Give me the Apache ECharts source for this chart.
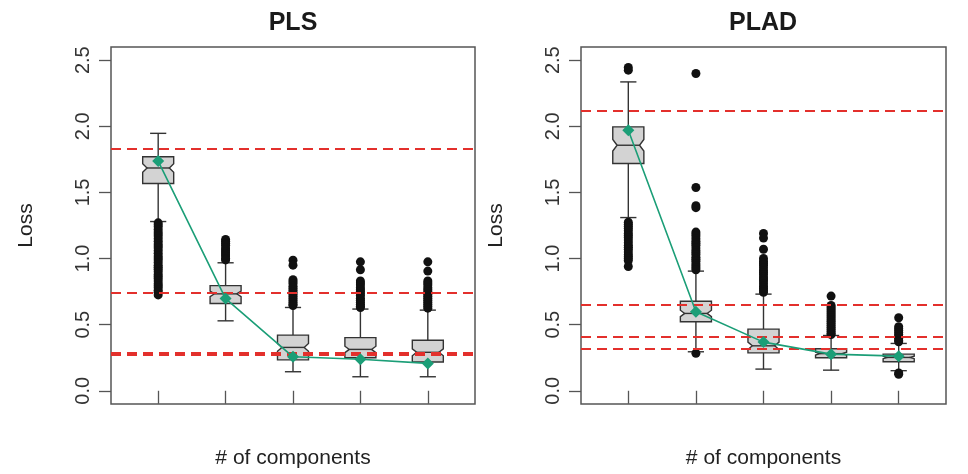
<!DOCTYPE html>
<html>
<head>
<meta charset="utf-8">
<script src="https://cdn.jsdelivr.net/npm/echarts@6/dist/echarts.min.js"></script>
<style>
  html, body { margin: 0; padding: 0; background: #fff; }
  #chart { width: 968px; height: 474px; }
</style>
</head>
<body>
<div id="chart"></div>
<script>
// x positions of the boxes and the y tick labels
const components = [1, 2, 3, 4, 5];
const yTicks = [0, 0.5, 1, 1.5, 2, 2.5];

// PLS panel: box statistics per number of components
const plsLow = [1.280, 0.529, 0.144, 0.106, 0.106];
const plsQ1 = [1.568, 0.660, 0.234, 0.250, 0.218];
const plsMedian = [1.685, 0.733, 0.328, 0.313, 0.291];
const plsQ3 = [1.770, 0.795, 0.421, 0.402, 0.382];
const plsHigh = [1.947, 0.968, 0.630, 0.618, 0.610];
const plsMean = [1.737, 0.697, 0.257, 0.238, 0.207];
const plsRefLines = [1.827, 0.736, 0.288, 0.274];
const plsOutliers = [
  [1.27, 1.255, 1.24, 1.22, 1.2, 1.185, 1.17, 1.15, 1.13, 1.11, 1.095, 1.08, 1.06, 1.04, 1.02, 1.005,
   0.99, 0.97, 0.95, 0.935, 0.92, 0.9, 0.88, 0.865, 0.85, 0.83, 0.81, 0.795, 0.78, 0.76, 0.745, 0.725],
  [1.145, 1.13, 1.115, 1.1, 1.08, 1.065, 1.05, 1.035, 1.02, 1.0, 0.99],
  [0.988, 0.95, 0.84, 0.825, 0.81, 0.79, 0.775, 0.76, 0.745, 0.73, 0.715, 0.7, 0.685, 0.67, 0.655, 0.645],
  [0.975, 0.915, 0.83, 0.815, 0.8, 0.78, 0.765, 0.75, 0.735, 0.72, 0.7, 0.685, 0.67, 0.655, 0.64, 0.63],
  [0.975, 0.905, 0.83, 0.815, 0.8, 0.78, 0.765, 0.75, 0.73, 0.715, 0.7, 0.685, 0.67, 0.655, 0.64, 0.625]
];

// PLAD panel
const pladLow = [1.310, 0.295, 0.164, 0.156, 0.152];
const pladQ1 = [1.719, 0.522, 0.287, 0.250, 0.219];
const pladMedian = [1.857, 0.585, 0.340, 0.281, 0.252];
const pladQ3 = [1.996, 0.677, 0.466, 0.318, 0.277];
const pladHigh = [2.336, 0.905, 0.731, 0.418, 0.358];
const pladMean = [1.971, 0.597, 0.368, 0.277, 0.262];
const pladRefLines = [2.116, 0.648, 0.408, 0.318];
const pladOutliers = [
  [2.445, 2.425, 1.275, 1.26, 1.245, 1.23, 1.21, 1.19, 1.175, 1.16, 1.14, 1.12, 1.1, 1.085, 1.07, 1.05,
   1.03, 1.015, 1.0, 0.985, 0.94],
  [2.4, 1.537, 1.4, 1.385, 1.2, 1.185, 1.17, 1.15, 1.13, 1.115, 1.1, 1.08, 1.06, 1.045, 1.03, 1.01,
   0.995, 0.98, 0.96, 0.945, 0.93, 0.915, 0.283],
  [1.19, 1.155, 1.07, 1.0, 0.98, 0.965, 0.95, 0.93, 0.91, 0.895, 0.88, 0.86, 0.845, 0.83, 0.81, 0.79,
   0.775, 0.76, 0.745],
  [0.716, 0.645, 0.63, 0.615, 0.6, 0.585, 0.57, 0.555, 0.54, 0.525, 0.51, 0.495, 0.48, 0.465, 0.45, 0.435, 0.425],
  [0.552, 0.484, 0.47, 0.455, 0.44, 0.425, 0.41, 0.395, 0.38, 0.37, 0.135, 0.125]
];

// box drawing constants (axis units)
const sampleSize = 100;
const boxWidth = 0.46;
const capWidth = 0.24;
const notchFrac = 0.72;

const font = 'Liberation Sans, Arial, Helvetica, sans-serif';
const green = '#1B9E77';
const red = '#e3302c';
const ink = '#333333';

function boxRows(low, q1, med, q3, high) {
  return components.map((c, i) => [c, low[i], q1[i], med[i], q3[i], high[i]]);
}
function outlierPoints(lists) {
  const pts = [];
  lists.forEach((vals, i) => vals.forEach(v => pts.push([components[i], v])));
  return pts;
}

function renderBox(params, api) {
  const x = api.value(0);
  const lo = api.value(1), q1 = api.value(2), med = api.value(3), q3 = api.value(4), hi = api.value(5);
  const notch = 1.58 * (q3 - q1) / Math.sqrt(sampleSize);
  const hw = boxWidth / 2, nw = hw * notchFrac, cw = capWidth / 2;
  const p = (dx, v) => api.coord([x + dx, v]);
  const stroke = { stroke: ink, lineWidth: 1.4, fill: null };
  const seg = (a, b) => ({ type: 'line', shape: { x1: a[0], y1: a[1], x2: b[0], y2: b[1] }, style: stroke });
  return {
    type: 'group',
    children: [
      seg(p(0, q3), p(0, hi)),
      seg(p(0, q1), p(0, lo)),
      seg(p(-cw, hi), p(cw, hi)),
      seg(p(-cw, lo), p(cw, lo)),
      {
        type: 'polygon',
        shape: { points: [p(-hw, q3), p(hw, q3), p(hw, med + notch), p(nw, med), p(hw, med - notch),
                          p(hw, q1), p(-hw, q1), p(-hw, med - notch), p(-nw, med), p(-hw, med + notch)] },
        style: { fill: '#d3d3d3', stroke: ink, lineWidth: 1.4 }
      },
      seg(p(-nw, med), p(nw, med))
    ]
  };
}

function panelAxes(idx) {
  return {
    x: {
      type: 'value', gridIndex: idx, min: 0.3, max: 5.7,
      name: '# of components', nameLocation: 'middle', nameGap: 44,
      nameTextStyle: { fontSize: 21, color: '#222', fontFamily: font },
      axisLine: { show: false }, splitLine: { show: false },
      axisTick: { show: true, customValues: components, length: 13, lineStyle: { color: '#555', width: 1.3 } },
      axisLabel: { show: false }
    },
    y: {
      type: 'value', gridIndex: idx, min: -0.1, max: 2.6,
      name: 'Loss', nameLocation: 'middle', nameRotate: 90, nameGap: 74,
      nameTextStyle: { fontSize: 21, color: '#222', fontFamily: font },
      axisLine: { show: false }, splitLine: { show: false },
      axisTick: { show: true, customValues: yTicks, length: 12, lineStyle: { color: '#555', width: 1.3 } },
      axisLabel: {
        customValues: yTicks, rotate: 90, margin: 18, fontSize: 20, color: '#333', fontFamily: font,
        formatter: v => v.toFixed(1)
      }
    }
  };
}

function panelSeries(idx, rows, outliers, means, refs) {
  return [
    {
      type: 'custom', xAxisIndex: idx, yAxisIndex: idx, z: 2,
      data: rows, encode: { x: 0, y: [1, 2, 3, 4, 5] },
      renderItem: renderBox
    },
    {
      type: 'scatter', xAxisIndex: idx, yAxisIndex: idx, z: 3,
      symbol: 'circle', symbolSize: 9,
      itemStyle: { color: '#111', opacity: 1 },
      data: outlierPoints(outliers),
      markLine: {
        silent: true, symbol: ['none', 'none'], label: { show: false },
        lineStyle: { color: red, type: [10, 6], width: 2, opacity: 1 },
        data: refs.map(v => ({ yAxis: v }))
      }
    },
    {
      type: 'line', xAxisIndex: idx, yAxisIndex: idx, z: 5,
      symbol: 'diamond', symbolSize: 12,
      lineStyle: { color: green, width: 1.6 },
      itemStyle: { color: green, opacity: 1 },
      data: components.map((c, i) => [c, means[i]])
    }
  ];
}

const left = panelAxes(0);
const right = panelAxes(1);

const chart = echarts.init(document.getElementById('chart'));
chart.setOption({
  animation: false,
  title: [
    { text: 'PLS', left: 288, top: 6, textAlign: 'center',
      textStyle: { fontSize: 25, fontWeight: 'bold', color: '#1a1a1a', fontFamily: font } },
    { text: 'PLAD', left: 758, top: 6, textAlign: 'center',
      textStyle: { fontSize: 25, fontWeight: 'bold', color: '#1a1a1a', fontFamily: font } }
  ],
  grid: [
    { left: 111, top: 47, width: 364, height: 357, show: true, borderColor: '#555', borderWidth: 1.5 },
    { left: 581, top: 47, width: 365, height: 357, show: true, borderColor: '#555', borderWidth: 1.5 }
  ],
  xAxis: [left.x, right.x],
  yAxis: [left.y, right.y],
  series: [
    ...panelSeries(0, boxRows(plsLow, plsQ1, plsMedian, plsQ3, plsHigh), plsOutliers, plsMean, plsRefLines),
    ...panelSeries(1, boxRows(pladLow, pladQ1, pladMedian, pladQ3, pladHigh), pladOutliers, pladMean, pladRefLines)
  ]
});
</script>
</body>
</html>
